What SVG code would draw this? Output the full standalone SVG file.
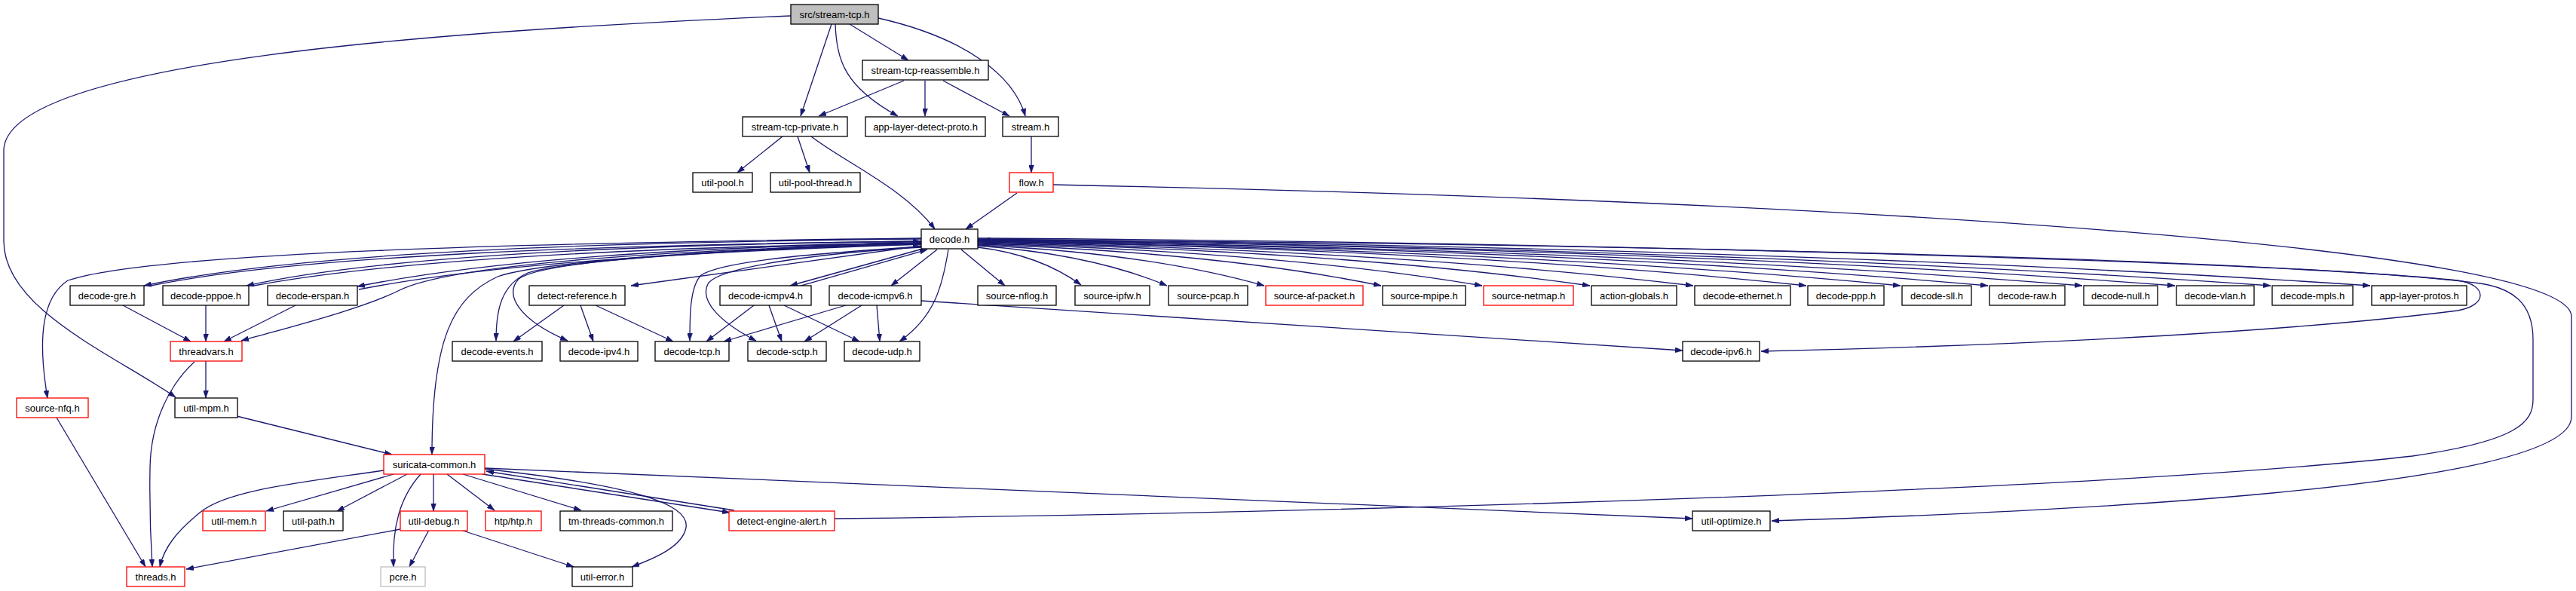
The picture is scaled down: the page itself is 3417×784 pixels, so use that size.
<svg xmlns="http://www.w3.org/2000/svg" width="3417" height="784" viewBox="0 0 3417 784">
<style>
.nd rect{fill:#fff;stroke:#000;stroke-width:1.3}
.nd.red rect{stroke:#ff0000}
.nd.gry rect{stroke:#bfbfbf}
.nd.root rect{fill:#bfbfbf}
.nd text{font-family:"Liberation Sans",Arial,sans-serif;font-size:13px;fill:#000;text-anchor:middle}
#edges path{fill:none;stroke:#191970;stroke-width:1.3;marker-end:url(#ah)}
</style>
<defs>
<marker id="ah" viewBox="0 0 10 7" refX="10" refY="3.5" markerWidth="10" markerHeight="7" markerUnits="userSpaceOnUse" orient="auto">
<path d="M0,0 L10,3.5 L0,7 z" fill="#191970" stroke="#191970" stroke-width="0.5"/>
</marker>
</defs>
<rect width="3417" height="784" fill="#fff"/>
<g id="edges">
<path d="M1049,21 C600,40 5,80 5,200 L5,320 C5,410 150,470 233,527"/>
<path d="M1103,32 L1062,154"/>
<path d="M1108,32 C1110,80 1120,115 1191,154"/>
<path d="M1127,32 L1205,80"/>
<path d="M1165,24 C1280,50 1345,100 1360,154"/>
<path d="M1199,107 L1086,154"/>
<path d="M1227,107 L1227,154"/>
<path d="M1251,107 L1339,154"/>
<path d="M1038,181 L978,229"/>
<path d="M1058,181 L1074,229"/>
<path d="M1076,181 C1120,215 1200,250 1240,304"/>
<path d="M1368,181 L1368,229"/>
<path d="M1349,256 L1281,304"/>
<path d="M1397,245 C2500,268 3411,330 3411,420 L3411,553 C3411,650 2700,680 2350,691"/>
<path d="M1275,331 L1333,379"/>
<path d="M1297,328 Q1379,338 1434,378"/>
<path d="M1297,326 Q1448,337 1548,379"/>
<path d="M1297,325 Q1525,336 1677,379"/>
<path d="M1297,324 Q1618,335 1832,379"/>
<path d="M1297,323 Q1698,334 1966,379"/>
<path d="M1297,322 Q1784,333 2109,379"/>
<path d="M1297,321 Q1866,333 2246,379"/>
<path d="M1297,320 Q1956,332 2396,379"/>
<path d="M1297,320 Q2031,332 2521,379"/>
<path d="M1297,319 Q2101,331 2637,379"/>
<path d="M1297,319 Q2176,331 2762,379"/>
<path d="M1297,318 Q2250,330 2885,379"/>
<path d="M1297,318 Q2326,330 3012,379"/>
<path d="M1297,317 Q2405,329 3144,379"/>
<path d="M1297,316 C2000,320 3000,345 3260,372 C3300,378 3300,405 3260,412 C3000,445 2600,460 2336,466"/>
<path d="M1107,688 C1800,680 2800,650 3200,605 C3340,585 3360,560 3360,530 L3360,450 C3360,400 3330,382 3290,376 C3000,340 2000,322 1304,318"/>
<path d="M643,621 L2245,688"/>
<path d="M1222,399 L2232,465"/>
<path d="M1222,317 C800,321 400,334 191,379"/>
<path d="M200,379 C400,338 800,325 1221,320"/>
<path d="M1222,320 C850,324 500,340 327,379"/>
<path d="M337,379 C520,345 850,328 1221,322"/>
<path d="M1222,322 C900,328 650,345 474,380"/>
<path d="M476,384 C650,350 900,335 1221,324"/>
<path d="M1222,324 C900,330 600,350 530,385 C480,410 380,435 320,452"/>
<path d="M1222,316 C700,322 200,335 90,372 C55,395 50,450 63,528"/>
<path d="M1222,326 L837,379"/>
<path d="M1222,322 C1000,330 750,345 700,362 C665,378 658,410 658,452"/>
<path d="M1222,323 C950,332 720,345 688,370 C668,392 690,425 753,452"/>
<path d="M1222,320 C1000,330 720,345 660,367 C600,395 573,450 573,603"/>
<path d="M1222,327 C1100,335 960,345 930,365 C915,380 915,420 915,452"/>
<path d="M1222,328 C1100,335 960,352 940,375 C925,400 960,430 1003,452"/>
<path d="M1224,330 L1048,379"/>
<path d="M1062,379 L1230,331"/>
<path d="M1243,331 L1182,379"/>
<path d="M1258,331 C1250,380 1240,420 1193,453"/>
<path d="M748,405 L681,453"/>
<path d="M770,405 L787,453"/>
<path d="M790,405 L893,453"/>
<path d="M1000,405 L937,453"/>
<path d="M1020,405 L1037,453"/>
<path d="M1040,405 L1140,453"/>
<path d="M1122,405 L960,453"/>
<path d="M1143,405 L1067,453"/>
<path d="M1163,405 L1167,453"/>
<path d="M163,405 L253,453"/>
<path d="M273,405 L273,453"/>
<path d="M392,405 L297,453"/>
<path d="M273,479 L273,528"/>
<path d="M258,480 C225,510 200,560 199,620 C198,680 200,720 202,752"/>
<path d="M75,554 L193,752"/>
<path d="M314,552 L520,603"/>
<path d="M509,624 C400,640 300,650 265,680 C235,705 218,725 212,752"/>
<path d="M522,629 L353,678"/>
<path d="M540,629 L447,678"/>
<path d="M575,629 L575,678"/>
<path d="M558,629 C530,660 520,700 522,752"/>
<path d="M569,703 L543,752"/>
<path d="M593,629 L656,677"/>
<path d="M614,629 L771,677"/>
<path d="M640,629 L968,680"/>
<path d="M974,677 L645,625"/>
<path d="M643,622 C850,645 915,670 910,700 C905,725 870,740 838,752"/>
<path d="M611,703 L761,752"/>
<path d="M531,702 L247,755"/>
</g>
<g id="n0" class="nd root"><rect x="1049" y="6" width="116" height="26"/><text x="1107" y="24">src/stream-tcp.h</text></g>
<g id="n1" class="nd"><rect x="1144" y="80" width="167" height="26"/><text x="1227.5" y="98">stream-tcp-reassemble.h</text></g>
<g id="n2" class="nd"><rect x="985" y="155" width="139" height="26"/><text x="1054.5" y="173">stream-tcp-private.h</text></g>
<g id="n3" class="nd"><rect x="1148" y="155" width="159" height="26"/><text x="1227.5" y="173">app-layer-detect-proto.h</text></g>
<g id="n4" class="nd"><rect x="1330" y="155" width="74" height="26"/><text x="1367" y="173">stream.h</text></g>
<g id="n5" class="nd"><rect x="919" y="229" width="79" height="26"/><text x="958.5" y="247">util-pool.h</text></g>
<g id="n6" class="nd"><rect x="1022" y="229" width="119" height="26"/><text x="1081.5" y="247">util-pool-thread.h</text></g>
<g id="n7" class="nd red"><rect x="1339" y="229" width="58" height="26"/><text x="1368" y="247">flow.h</text></g>
<g id="n8" class="nd"><rect x="1222" y="304" width="75" height="26"/><text x="1259.5" y="322">decode.h</text></g>
<g id="n9" class="nd"><rect x="93" y="379" width="98" height="26"/><text x="142" y="397">decode-gre.h</text></g>
<g id="n10" class="nd"><rect x="216" y="379" width="114" height="26"/><text x="273" y="397">decode-pppoe.h</text></g>
<g id="n11" class="nd"><rect x="355" y="379" width="119" height="26"/><text x="414.5" y="397">decode-erspan.h</text></g>
<g id="n12" class="nd"><rect x="702" y="379" width="127" height="26"/><text x="765.5" y="397">detect-reference.h</text></g>
<g id="n13" class="nd"><rect x="955" y="379" width="121" height="26"/><text x="1015.5" y="397">decode-icmpv4.h</text></g>
<g id="n14" class="nd"><rect x="1100" y="379" width="122" height="26"/><text x="1161" y="397">decode-icmpv6.h</text></g>
<g id="n15" class="nd"><rect x="1297" y="379" width="104" height="26"/><text x="1349" y="397">source-nflog.h</text></g>
<g id="n16" class="nd"><rect x="1426" y="379" width="99" height="26"/><text x="1475.5" y="397">source-ipfw.h</text></g>
<g id="n17" class="nd"><rect x="1550" y="379" width="105" height="26"/><text x="1602.5" y="397">source-pcap.h</text></g>
<g id="n18" class="nd red"><rect x="1679" y="379" width="129" height="26"/><text x="1743.5" y="397">source-af-packet.h</text></g>
<g id="n19" class="nd"><rect x="1834" y="379" width="110" height="26"/><text x="1889" y="397">source-mpipe.h</text></g>
<g id="n20" class="nd red"><rect x="1968" y="379" width="119" height="26"/><text x="2027.5" y="397">source-netmap.h</text></g>
<g id="n21" class="nd"><rect x="2111" y="379" width="113" height="26"/><text x="2167.5" y="397">action-globals.h</text></g>
<g id="n22" class="nd"><rect x="2248" y="379" width="127" height="26"/><text x="2311.5" y="397">decode-ethernet.h</text></g>
<g id="n23" class="nd"><rect x="2398" y="379" width="101" height="26"/><text x="2448.5" y="397">decode-ppp.h</text></g>
<g id="n24" class="nd"><rect x="2523" y="379" width="92" height="26"/><text x="2569" y="397">decode-sll.h</text></g>
<g id="n25" class="nd"><rect x="2639" y="379" width="100" height="26"/><text x="2689" y="397">decode-raw.h</text></g>
<g id="n26" class="nd"><rect x="2764" y="379" width="98" height="26"/><text x="2813" y="397">decode-null.h</text></g>
<g id="n27" class="nd"><rect x="2887" y="379" width="103" height="26"/><text x="2938.5" y="397">decode-vlan.h</text></g>
<g id="n28" class="nd"><rect x="3014" y="379" width="107" height="26"/><text x="3067.5" y="397">decode-mpls.h</text></g>
<g id="n29" class="nd"><rect x="3146" y="379" width="126" height="26"/><text x="3209" y="397">app-layer-protos.h</text></g>
<g id="n30" class="nd red"><rect x="226" y="453" width="95" height="26"/><text x="273.5" y="471">threadvars.h</text></g>
<g id="n31" class="nd"><rect x="600" y="453" width="119" height="26"/><text x="659.5" y="471">decode-events.h</text></g>
<g id="n32" class="nd"><rect x="743" y="453" width="103" height="26"/><text x="794.5" y="471">decode-ipv4.h</text></g>
<g id="n33" class="nd"><rect x="869" y="453" width="98" height="26"/><text x="918" y="471">decode-tcp.h</text></g>
<g id="n34" class="nd"><rect x="992" y="453" width="104" height="26"/><text x="1044" y="471">decode-sctp.h</text></g>
<g id="n35" class="nd"><rect x="1120" y="453" width="100" height="26"/><text x="1170" y="471">decode-udp.h</text></g>
<g id="n36" class="nd"><rect x="2232" y="453" width="102" height="26"/><text x="2283" y="471">decode-ipv6.h</text></g>
<g id="n37" class="nd red"><rect x="22" y="528" width="95" height="26"/><text x="69.5" y="546">source-nfq.h</text></g>
<g id="n38" class="nd"><rect x="232" y="528" width="83" height="26"/><text x="273.5" y="546">util-mpm.h</text></g>
<g id="n39" class="nd red"><rect x="509" y="603" width="134" height="26"/><text x="576" y="621">suricata-common.h</text></g>
<g id="n40" class="nd red"><rect x="269" y="678" width="83" height="26"/><text x="310.5" y="696">util-mem.h</text></g>
<g id="n41" class="nd"><rect x="376" y="678" width="79" height="26"/><text x="415.5" y="696">util-path.h</text></g>
<g id="n42" class="nd red"><rect x="531" y="678" width="89" height="26"/><text x="575.5" y="696">util-debug.h</text></g>
<g id="n43" class="nd red"><rect x="644" y="678" width="74" height="26"/><text x="681" y="696">htp/htp.h</text></g>
<g id="n44" class="nd"><rect x="743" y="678" width="149" height="26"/><text x="817.5" y="696">tm-threads-common.h</text></g>
<g id="n45" class="nd red"><rect x="967" y="678" width="140" height="26"/><text x="1037" y="696">detect-engine-alert.h</text></g>
<g id="n46" class="nd"><rect x="2245" y="678" width="103" height="26"/><text x="2296.5" y="696">util-optimize.h</text></g>
<g id="n47" class="nd red"><rect x="168" y="752" width="77" height="26"/><text x="206.5" y="770">threads.h</text></g>
<g id="n48" class="nd gry"><rect x="505" y="752" width="59" height="26"/><text x="534.5" y="770">pcre.h</text></g>
<g id="n49" class="nd"><rect x="759" y="752" width="80" height="26"/><text x="799" y="770">util-error.h</text></g>
</svg>
